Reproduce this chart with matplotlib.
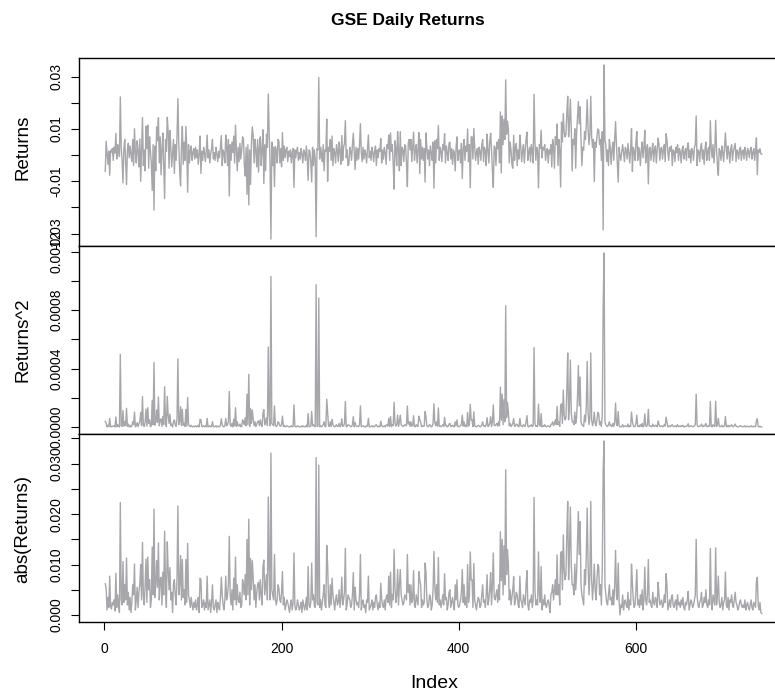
import numpy as np
import matplotlib.pyplot as plt

plt.rcParams['font.family'] = ['Liberation Sans', 'DejaVu Sans']

# daily returns, in units of 0.0001 (index 1..742)
returns_bp = [
    -62, 53, 10, -35, 15, -77, 18, 12, 25, -20, 30, 8, 83, -15, 40, 20, -5, 223, 30, -20,
    -106, 25, 60, -30, -113, 20, 45, -10, 35, 5, -25, 60, -40, 101, 10, -30, 55, 15, -45, 62,
    -100, 30, 144, -40, 20, -60, 111, 25, 115, -50, 70, 15, -30, -135, 40, -210, 35, -60, 108, 55,
    143, -30, 70, -75, 20, 85, -40, -166, 60, 15, 145, 90, -50, 94, 30, -45, 5, 60, -70, 40,
    -20, 75, 216, 40, -60, -118, 30, 110, -35, 50, -20, 110, 25, -142, 40, -30, 15, 35, -20, 10,
    25, -15, 30, -10, 20, -35, 5, 73, -70, 15, -20, 30, 10, -25, 15, 77, -10, 20, -30, 5,
    25, 60, -15, 10, -20, 30, 5, -25, 15, -10, 35, 75, -40, 20, 10, -30, 77, 30, -40, 60,
    -156, 40, -20, 50, 10, 73, -30, 115, 20, -60, 30, -25, 45, -15, 20, 70, 60, -40, -80, 30,
    -150, 40, -190, 20, -112, 50, 108, 73, -30, 60, 15, -45, 60, -65, 30, 70, -40, 20, 97, -109,
    40, -60, 80, 30, 234, 90, -30, -321, 50, -40, 30, -120, 33, 20, -30, 60, 53, -30, 25, -45,
    86, -20, 35, -10, 20, 30, -25, 15, -5, 20, -30, 10, 25, -123, 20, -10, 15, 30, -20, 10,
    -15, 25, 5, -30, 20, 10, -20, 35, -10, -96, 20, 15, -25, -103, 30, -40, 20, -15, -312, 25,
    20, 297, -15, 30, 10, -25, 40, -60, 20, 15, 138, -100, 30, 15, 60, -20, 73, -40, 25, 10,
    -30, 40, 20, -25, 50, 15, -35, 75, -20, 30, 45, 132, -10, 20, -40, -35, 30, 15, -20, 40,
    84, 10, -55, 30, -20, 25, -15, 40, 120, 10, -25, 30, -15, 20, 5, -30, 25, 77, -10, 15,
    -20, 30, 10, -25, 15, 35, -40, 20, -10, 25, 15, 63, -30, 20, -15, 30, 10, -35, 40, 25,
    77, -20, 85, 15, 40, -30, -130, 55, 25, -40, 90, 20, -60, 90, -40, 30, 20, -25, 40, 35,
    -30, -120, 45, 60, 20, 60, -25, 30, 88, -20, 15, 40, -30, 20, 86, -70, 60, -15, 30, -20,
    25, -103, 85, 30, -15, 20, -40, 35, 10, -20, 50, -126, 55, -30, 60, 25, 114, -20, 30, 15,
    -25, 40, 20, 82, -30, 35, 10, -20, 45, 50, -15, 25, -35, 20, 10, -60, 30, 70, -20, 15,
    20, -30, 45, -90, 25, 60, -20, 35, 15, 100, -25, 40, -125, 70, 70, -15, 102, 30, -20, 10,
    25, -35, 30, 15, -20, 40, 60, -25, 30, 15, -40, 80, 20, -30, 50, 84, 20, -60, -123, 35,
    30, -40, 50, 25, 60, -30, 165, -68, 150, 40, 137, 60, 288, 80, 130, 100, -30, 50, 20, -35,
    -50, 76, -20, 30, 45, -40, 20, -15, 77, 30, -25, 15, 40, -30, 20, 60, 88, -20, 10, 30,
    -25, 40, 15, -30, 233, 50, -20, 30, 20, -125, 40, 25, 96, -10, 30, 20, 40, -20, 15, 25,
    -30, 20, 5, 40, -45, 60, 30, -50, 70, 40, 119, -40, 60, 20, -122, 126, 50, 159, 90, 70,
    80, 160, 225, 70, 130, 214, 100, -60, 60, 40, 101, -50, 80, 140, 205, 120, 185, 60, -40, 30,
    20, 90, 60, 120, 212, 100, 40, 80, 225, 70, 30, 60, -101, 50, 30, 70, 100, 95, 40, 60,
    -20, 90, -286, 345, 60, 40, -25, 20, -40, 60, 30, -35, 20, 50, -20, 60, 128, 40, -30, -103,
    30, 0, -20, 15, 40, 10, -25, 30, 20, -15, 45, 10, -30, 20, 101, -62, 30, 15, -20, 50,
    90, -20, 30, 15, -40, 20, 50, -10, 30, 95, -30, 20, 40, -110, 25, 30, -20, 15, 45, -25,
    20, 35, -30, 15, 65, 40, -20, 25, 30, -15, 20, 40, -25, 82, 60, 10, -20, 30, 15, 35,
    -40, 20, 15, -25, 30, 10, 40, -20, 25, 15, -30, 20, 35, -15, 10, 25, -20, 30, 47, -10,
    20, -30, 25, 15, -20, 30, 40, 150, -40, 20, 15, -25, 30, 45, -15, 20, -35, 25, 50, -20,
    15, 30, -20, 132, 25, -10, 40, -30, 20, 133, 20, -40, -77, 25, 15, -20, 35, 10, -25, 30,
    85, 20, -15, 35, 10, -30, 25, 40, -20, 15, 30, 45, -25, 20, 10, -15, 25, 30, -20, 15,
    20, -15, 30, 10, -20, 25, 15, -10, 20, 30, -15, 10, 25, -20, 15, 66, -75, 20, 10, 25,
    5, 3,
]

returns = np.array(returns_bp) / 10000.0
index = np.arange(1, len(returns) + 1)
series = [returns, returns**2, np.abs(returns)]
ylabels = ['Returns', 'Returns^2', 'abs(Returns)']

# ticks and which ones get a label (R drops labels that would overlap)
yticks = [
    [-0.03, -0.02, -0.01, 0.0, 0.01, 0.02, 0.03],
    [0.0, 0.0002, 0.0004, 0.0006, 0.0008, 0.0010, 0.0012],
    [0.0, 0.005, 0.010, 0.015, 0.020, 0.025, 0.030, 0.035],
]
yticklabels = [
    ['-0.03', '', '-0.01', '', '0.01', '', '0.03'],
    ['0.0000', '', '0.0004', '', '0.0008', '', '0.0012'],
    ['0.000', '', '0.010', '', '0.020', '', '0.030', ''],
]

W, H = 775, 690
fig = plt.figure(figsize=(W / 100, H / 100), dpi=100)

left, right = 79, 788
tops = [58, 246, 434]
ph = 188
label_y = [147, 340, 529]

n = len(returns)
ext = 0.04 * (n - 1)
line_col = '#a7a7ab'

for k in range(3):
    ax = fig.add_axes([left / W, 1 - (tops[k] + ph) / H, (right - left) / W, ph / H])
    y = series[k]
    ax.plot(index, y, color=line_col, lw=1.0)
    ax.set_xlim(1 - ext, n + ext)
    r = y.max() - y.min()
    ax.set_ylim(y.min() - 0.04 * r, y.max() + 0.04 * r)
    ax.set_yticks(yticks[k])
    ax.set_yticklabels(yticklabels[k], rotation=90, va='center')
    ax.tick_params(axis='y', length=5.8, width=0.8, labelsize=10, pad=5.5)
    for s in ax.spines.values():
        s.set_linewidth(1.0)
        s.set_color('black')
    fig.text(23 / W, 1 - label_y[k] / H, ylabels[k], rotation=90,
             ha='center', va='center', fontsize=13.5)
    if k < 2:
        ax.tick_params(axis='x', bottom=False, labelbottom=False)
    else:
        ax.set_xticks([0, 200, 400, 600])
        ax.tick_params(axis='x', length=5.8, width=0.8, labelsize=10, pad=8.5)

fig.text(434 / W, 1 - 683 / H, 'Index', ha='center', va='center', fontsize=14)
fig.text(408 / W, 1 - 20 / H, 'GSE Daily Returns', ha='center', va='center',
         fontsize=12.5, fontweight='bold')

fig.savefig('out.png', dpi=100)
